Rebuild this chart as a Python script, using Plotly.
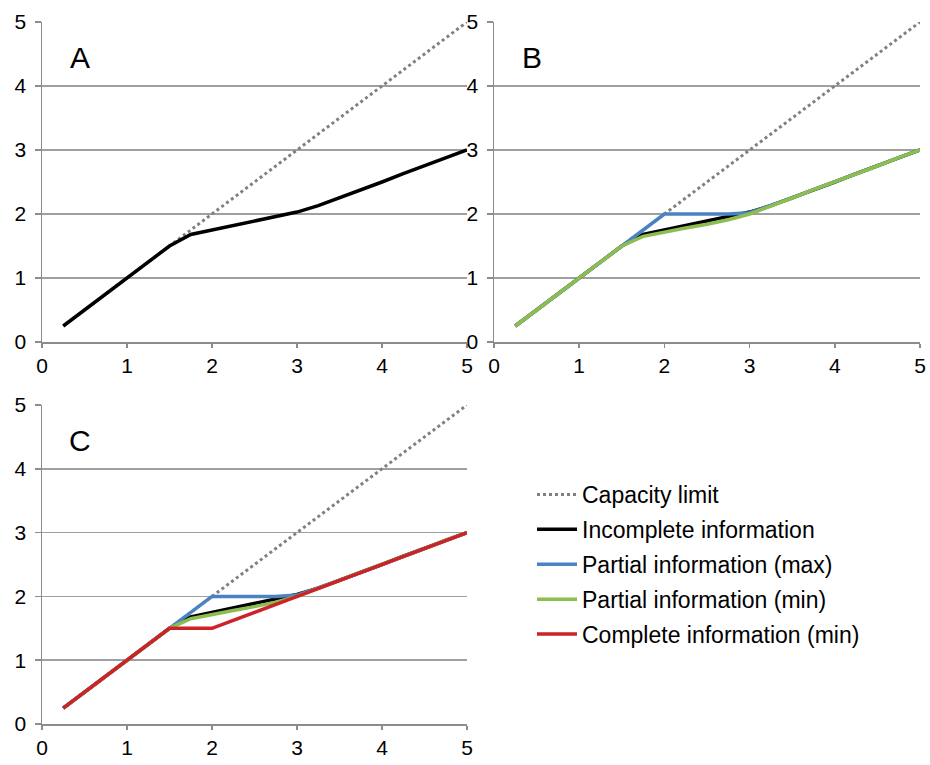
import plotly.graph_objects as go

x = [0.25, 0.5, 0.75, 1.0, 1.25, 1.5, 1.75, 2.0, 2.25, 2.5, 2.75, 3.0, 3.25, 3.5, 3.75, 4.0, 4.25, 4.5, 4.75, 5.0]
capacity = [0.25, 0.5, 0.75, 1.0, 1.25, 1.5, 1.75, 2.0, 2.25, 2.5, 2.75, 3.0, 3.25, 3.5, 3.75, 4.0, 4.25, 4.5, 4.75, 5.0]
incomplete = [0.25, 0.5, 0.75, 1.0, 1.25, 1.5, 1.68, 1.75, 1.81, 1.88, 1.95, 2.03, 2.13, 2.25, 2.38, 2.5, 2.63, 2.75, 2.88, 3.0]
partial_max = [0.25, 0.5, 0.75, 1.0, 1.25, 1.5, 1.75, 2.0, 2.0, 2.0, 2.0, 2.02, 2.13, 2.25, 2.38, 2.5, 2.63, 2.75, 2.88, 3.0]
partial_min = [0.25, 0.5, 0.75, 1.0, 1.25, 1.5, 1.65, 1.72, 1.78, 1.84, 1.91, 2.0, 2.12, 2.25, 2.38, 2.5, 2.63, 2.75, 2.88, 3.0]
complete_min = [0.25, 0.5, 0.75, 1.0, 1.25, 1.5, 1.5, 1.5, 1.625, 1.75, 1.875, 2.0, 2.125, 2.25, 2.375, 2.5, 2.625, 2.75, 2.875, 3.0]
ticks = [0, 1, 2, 3, 4, 5]
panel_labels = ["A", "B", "C"]

names = ["Capacity limit", "Incomplete information", "Partial information (max)",
         "Partial information (min)", "Complete information (min)"]
series = [capacity, incomplete, partial_max, partial_min, complete_min]
colors = ["#808080", "#000000", "#4a82c4", "#8cbe4f", "#cc2329"]
dashes = ["dot", "solid", "solid", "solid", "solid"]
widths = [3, 3.5, 3.5, 3.5, 3.5]

panels = [
    ("x", "y", [0, 1]),
    ("x2", "y2", [0, 1, 2, 3]),
    ("x3", "y3", [0, 1, 2, 3, 4]),
]

fig = go.Figure()
for pi, (xa, ya, idxs) in enumerate(panels):
    for i in idxs:
        fig.add_trace(go.Scatter(
            x=x, y=series[i], mode="lines", name=names[i],
            line=dict(color=colors[i], width=widths[i], dash=dashes[i]),
            xaxis=xa, yaxis=ya, showlegend=(pi == 2), legendgroup=names[i],
            hoverinfo="skip",
        ))

W, H = 930, 765
def fx(p):
    return p / W
def fy(p):
    return 1 - p / H

axis_common = dict(
    range=[0, 5], tickvals=ticks, showgrid=False, showline=True, linecolor="#8c8c8c",
    linewidth=1.5, ticks="outside", ticklen=4, tickcolor="#8c8c8c", tickwidth=1.5,
    tickfont=dict(family="Liberation Sans, Arial", size=21, color="#000"),
    zeroline=False, fixedrange=True, automargin=False, ticklabeloverflow="allow",
)
yaxis_common = dict(axis_common)
yaxis_common.update(showgrid=True, gridcolor="#a0a0a0", gridwidth=1.5, ticklabelstandoff=4, ticklen=6)

doms = [
    ((42, 467), (22, 342)),
    ((494, 920), (22, 342)),
    ((42, 467), (405, 724)),
]
layout = dict(
    width=W, height=H, margin=dict(l=0, r=0, t=0, b=0),
    paper_bgcolor="white", plot_bgcolor="white",
    font=dict(family="Liberation Sans, Arial", color="#000"),
    showlegend=True,
    legend=dict(x=fx(532), y=fy(473), xanchor="left", yanchor="top",
                font=dict(size=23, color="#000"), tracegroupgap=2,
                bgcolor="rgba(0,0,0,0)", borderwidth=0, itemwidth=40),
)
annotations = []
for k, ((x0, x1), (y0, y1)) in enumerate(doms):
    suf = "" if k == 0 else str(k + 1)
    xa = dict(axis_common, domain=[fx(x0), fx(x1)], anchor="y" + suf)
    ya = dict(yaxis_common, domain=[fy(y1), fy(y0)], anchor="x" + suf)
    layout["xaxis" + suf] = xa
    layout["yaxis" + suf] = ya
    annotations.append(dict(
        text=panel_labels[k], x=0.45, y=4.45, xref="x" + suf, yref="y" + suf,
        showarrow=False, font=dict(size=30, color="#000"), xanchor="center", yanchor="middle",
    ))
layout["annotations"] = annotations
fig.update_layout(**layout)
fig.write_html(
    "out.html",
    config={"displayModeBar": False, "staticPlot": True},
    post_script="document.body.style.margin='0';document.body.style.overflow='hidden';",
)
